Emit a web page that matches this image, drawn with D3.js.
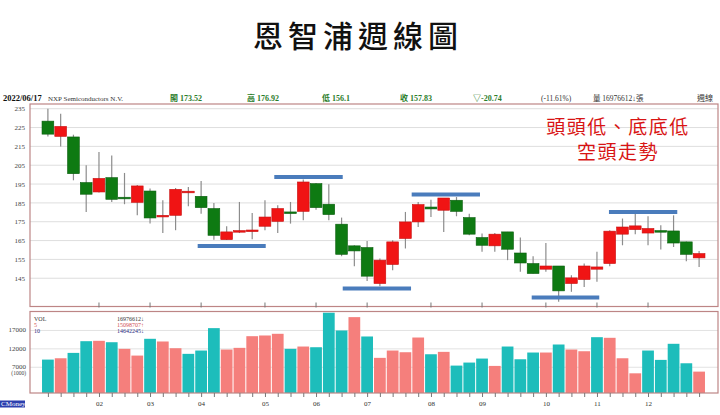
<!DOCTYPE html>
<html>
<head>
<meta charset="utf-8">
<script src="https://cdn.jsdelivr.net/npm/d3@7"></script>
<style>
  body { margin: 0; background: #fff; }
  svg { display: block; }
</style>
</head>
<body>
<div id="chart"></div>
<script>
// weekly OHLC
let opens  = [228.4, 220.3, 220.0, 195.8, 190.8, 198.4, 188.0, 185.3, 191.3, 177.7, 178.4, 190.9, 188.5,
              182.0, 165.5, 169.8, 170.2, 172.6, 175.2, 180.2, 180.5, 195.2, 184.3, 173.7, 162.2, 161.3,
              142.2, 152.3, 166.1, 174.9, 182.8, 181.1, 186.4, 177.2, 166.6, 162.2, 169.6, 158.4, 152.8,
              149.8, 151.5, 142.2, 144.3, 149.8, 152.8, 168.4, 170.8, 169.0, 170.3, 170.1, 164.3, 155.8];
let highs  = [235.0, 232.3, 221.2, 205.0, 212.0, 210.2, 200.9, 194.5, 192.6, 186.4, 192.9, 193.4, 196.6,
              185.0, 172.6, 185.5, 179.6, 186.4, 183.7, 185.5, 197.4, 195.6, 194.9, 177.2, 162.5, 164.8,
              155.5, 165.2, 180.2, 185.5, 186.7, 187.6, 188.1, 179.3, 168.7, 169.0, 169.6, 166.6, 156.7,
              163.7, 151.5, 146.6, 152.8, 159.0, 170.5, 176.7, 179.3, 177.9, 173.1, 178.4, 164.5, 159.5];
let lows   = [220.3, 215.0, 197.0, 180.2, 190.5, 185.5, 184.3, 178.4, 174.0, 169.0, 170.5, 183.2, 179.3,
              165.5, 165.3, 169.0, 165.7, 170.5, 169.0, 174.0, 175.8, 181.4, 175.8, 156.7, 151.4, 143.6,
              140.8, 149.3, 160.8, 172.2, 177.5, 169.6, 177.9, 167.8, 159.0, 159.0, 154.6, 148.4, 147.5,
              148.4, 132.5, 137.8, 140.4, 143.1, 151.4, 162.5, 168.4, 162.5, 160.2, 161.6, 154.0, 151.0];
let closes = [221.5, 225.6, 200.5, 189.6, 198.0, 186.9, 187.8, 194.0, 177.0, 178.4, 192.2, 191.2, 182.5,
              167.8, 169.6, 170.3, 170.6, 177.5, 182.0, 180.0, 196.1, 182.5, 178.8, 157.7, 159.5, 146.1,
              154.6, 164.3, 174.9, 184.1, 181.8, 187.6, 180.5, 168.4, 162.5, 168.4, 160.4, 153.1, 147.5,
              151.5, 138.3, 145.2, 151.5, 151.0, 170.0, 172.2, 172.8, 171.4, 170.1, 163.7, 157.7, 158.1];
// weekly volume, in thousands of shares
let volumes = [9080, 9440, 10900, 14080, 14180, 13800, 12000, 10170, 14730, 14000, 12170, 10640, 11540,
               17630, 11810, 12270, 15440, 15630, 16090, 12000, 12630, 12440, 21820, 16990, 20620, 15360,
               9550, 11540, 11080, 15080, 10530, 11180, 7450, 8270, 9360, 7360, 12630, 9170, 11000,
               11000, 13180, 11810, 11350, 15170, 15000, 9440, 5350, 11540, 9000, 13370, 8080, 5810];

let priceTicks = [145, 155, 165, 175, 185, 195, 205, 215, 225, 235];
let volTicks = [7000, 12000, 17000];
let monthLabels = ["02", "03", "04", "05", "06", "07", "08", "09", "10", "11", "12"];
let monthWeeks = [4, 8, 12, 17, 21, 25, 30, 34, 39, 43, 47];

// hand drawn blue marks: from week, to week, price
let markFrom = [11.73, 17.73, 23.09, 28.49, 37.89, 43.94];
let markTo = [17.06, 23.09, 28.44, 33.84, 43.18, 49.29];
let markPrice = [162.1, 198.7, 139.6, 189.4, 134.8, 180.2];

let headerTexts = ["2022/06/17", "NXP Semiconductors N.V.", "開 173.52", "高 176.92", "低 156.1",
                   "收 157.83", "▽-20.74", "(-11.61%)", "量 16976612↓張", "週線"];

let width = 720, height = 415;
let left = 30, right = 718;
let pTop = 104, pBottom = 306.5;
let vTop = 311.5, vBottom = 393;

let red = "#f01414", green = "#0e7a12";
let volUp = "#f57f7c", volDown = "#1dbdbb";
let frame = "#bd8585";
let serif = "'Liberation Serif', 'Noto Sans CJK TC', serif";

let svg = d3.select('#chart')
    .append('svg')
    .attr('width', width)
    .attr('height', height);

svg.append('rect').attr('width', width).attr('height', height).attr('fill', '#fff');

let weeks = d3.range(closes.length);
let x = d3.scaleBand()
    .domain(weeks)
    .range([41, 706])
    .padding(0.08);
let bw = x.bandwidth();
let xw = d3.scaleLinear()
    .domain([0, weeks.length - 1])
    .range([x(0) + bw / 2, x(weeks.length - 1) + bw / 2]);

let y = d3.scaleLinear().domain([130, 237.5]).range([pBottom, pTop]);
let yv = d3.scaleLinear().domain([0, 22150]).range([vBottom, vTop]);

// title
svg.append('text')
    .attr('x', 358)
    .attr('y', 47)
    .attr('text-anchor', 'middle')
    .style('font-family', "'Noto Sans CJK TC', sans-serif")
    .style('font-size', '30px')
    .style('font-weight', '500')
    .style('letter-spacing', '5px')
    .attr('fill', '#111')
    .text('恩智浦週線圖');

// header line
let headerX = [3, 48, 170, 247, 322, 400, 473, 541, 593, 697];
let headerSize = [8.5, 7, 8, 8, 8, 8, 8, 7.5, 7.5, 8];
let headerColor = ["#111", "#333", "#2b7d2b", "#2b7d2b", "#2b7d2b", "#2b7d2b", "#2b7d2b", "#333", "#333", "#333"];
headerTexts.forEach(function (t, i) {
    svg.append('text')
        .attr('x', headerX[i])
        .attr('y', 100.5)
        .style('font-family', serif)
        .style('font-size', headerSize[i] + 'px')
        .style('font-weight', (i == 0 || (i >= 2 && i <= 6)) ? 'bold' : 'normal')
        .attr('fill', headerColor[i])
        .text(t);
});

// price panel
svg.append('g')
    .selectAll('line')
    .data(priceTicks)
    .join('line')
    .attr('x1', left).attr('x2', right)
    .attr('y1', d => y(d)).attr('y2', d => y(d))
    .attr('stroke', '#dedede')
    .attr('stroke-width', 1);

let yAxis = d3.axisLeft(y).tickValues(priceTicks).tickSize(0).tickPadding(5);
svg.append('g')
    .attr('transform', 'translate(' + left + ',0)')
    .call(yAxis)
    .call(g => g.select('.domain').remove())
    .selectAll('text')
    .style('font-family', serif)
    .style('font-size', '7px')
    .attr('fill', '#444');

// candles
let candles = svg.append('g');
weeks.forEach(function (i) {
    let up = closes[i] >= opens[i];
    let cx = x(i) + bw / 2;
    candles.append('line')
        .attr('x1', cx).attr('x2', cx)
        .attr('y1', y(highs[i])).attr('y2', y(lows[i]))
        .attr('stroke', '#8c8c8c')
        .attr('stroke-width', 1.2);
    let top = y(Math.max(opens[i], closes[i]));
    let h = Math.max(1.6, y(Math.min(opens[i], closes[i])) - top);
    candles.append('rect')
        .attr('x', x(i))
        .attr('y', top)
        .attr('width', bw)
        .attr('height', h)
        .attr('fill', up ? red : green)
        .attr('stroke', up ? '#c81010' : '#0a5e0e')
        .attr('stroke-width', 0.6);
});

// blue marks
markFrom.forEach(function (f, i) {
    svg.append('line')
        .attr('x1', xw(f)).attr('x2', xw(markTo[i]))
        .attr('y1', y(markPrice[i])).attr('y2', y(markPrice[i]))
        .attr('stroke', '#4a7cbc')
        .attr('stroke-width', 4);
});

// red notes
let notes = ["頭頭低、底底低", "空頭走勢"];
notes.forEach(function (t, i) {
    svg.append('text')
        .attr('x', 618)
        .attr('y', 134 + i * 25)
        .attr('text-anchor', 'middle')
        .style('font-family', "'Noto Sans CJK TC', sans-serif")
        .style('font-size', '19px')
        .style('letter-spacing', '1.5px')
        .attr('fill', '#d81414')
        .text(t);
});

svg.append('rect')
    .attr('x', left).attr('y', pTop)
    .attr('width', right - left).attr('height', pBottom - pTop)
    .attr('fill', 'none')
    .attr('stroke', frame)
    .attr('stroke-width', 1.2);

// month ticks on the price panel
monthWeeks.forEach(function (w) {
    svg.append('line')
        .attr('x1', xw(w)).attr('x2', xw(w))
        .attr('y1', pBottom - 4).attr('y2', pBottom + 1)
        .attr('stroke', '#777');
});

// volume panel
svg.append('g')
    .selectAll('line')
    .data(volTicks)
    .join('line')
    .attr('x1', left).attr('x2', right)
    .attr('y1', d => yv(d)).attr('y2', d => yv(d))
    .attr('stroke', '#e2e2e2');

svg.append('g')
    .selectAll('rect')
    .data(weeks)
    .join('rect')
    .attr('x', i => x(i))
    .attr('y', i => yv(volumes[i]))
    .attr('width', bw)
    .attr('height', i => yv(0) - yv(volumes[i]))
    .attr('fill', i => {
        let prev = i == 0 ? opens[0] : closes[i - 1];
        return closes[i] >= prev ? volUp : volDown;
    });

let vAxis = d3.axisLeft(yv).tickValues(volTicks).tickSize(0).tickPadding(4)
    .tickFormat(d3.format('d'));
svg.append('g')
    .attr('transform', 'translate(' + left + ',0)')
    .call(vAxis)
    .call(g => g.select('.domain').remove())
    .selectAll('text')
    .attr('dy', '0.2em')
    .style('font-family', serif)
    .style('font-size', '7px')
    .attr('fill', '#444');

svg.append('text')
    .attr('x', 26).attr('y', 375)
    .attr('text-anchor', 'end')
    .style('font-family', serif)
    .style('font-size', '5.5px')
    .attr('fill', '#444')
    .text('(1000)');

// volume legend
let legendNames = ["VOL", "5", "10"];
let legendValues = ["16976612↓", "15098707↑", "14642245↓"];
let legendColors = ["#333", "#d05050", "#2a2a80"];
legendNames.forEach(function (n, i) {
    svg.append('text')
        .attr('x', 34).attr('y', 320.8 + i * 6)
        .style('font-family', serif)
        .style('font-size', '6px')
        .attr('fill', legendColors[i])
        .text(n);
    svg.append('text')
        .attr('x', 117).attr('y', 320.8 + i * 6)
        .style('font-family', serif)
        .style('font-size', '6px')
        .attr('fill', legendColors[i])
        .text(legendValues[i]);
});

svg.append('rect')
    .attr('x', left).attr('y', vTop)
    .attr('width', right - left).attr('height', vBottom - vTop)
    .attr('fill', 'none')
    .attr('stroke', frame)
    .attr('stroke-width', 1.2);

// week ticks and month labels
let xAxis = d3.axisBottom(xw)
    .tickValues(weeks)
    .tickSize(4)
    .tickFormat(w => {
        let k = monthWeeks.indexOf(w);
        return k < 0 ? '' : monthLabels[k];
    });
svg.append('g')
    .attr('transform', 'translate(0,' + vBottom + ')')
    .call(xAxis)
    .call(g => g.select('.domain').remove())
    .call(g => g.selectAll('line').attr('stroke', '#777'))
    .selectAll('text')
    .attr('dy', '0.9em')
    .style('font-family', serif)
    .style('font-size', '7px')
    .attr('fill', '#333');

// CMoney tag
svg.append('rect')
    .attr('x', 0).attr('y', 400.5)
    .attr('width', 25).attr('height', 7)
    .attr('fill', '#2c3fae');
svg.append('text')
    .attr('x', 1).attr('y', 406.3)
    .style('font-family', serif)
    .style('font-size', '7px')
    .attr('fill', '#fff')
    .text('CMoney');
</script>
</body>
</html>
